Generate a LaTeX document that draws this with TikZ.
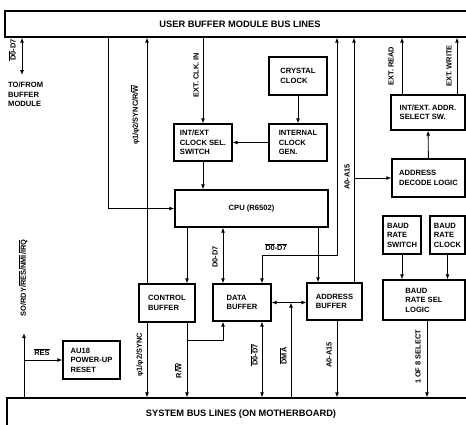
\documentclass[tikz,border=0pt]{standalone}
\usepackage{fontspec}
\setmainfont{Liberation Sans}
\usetikzlibrary{arrows.meta}
\newcommand{\ovl}[1]{$\overline{\hbox{#1}}$}

\begin{document}
\begin{tikzpicture}[x=1pt, y=-1pt,
    blk/.style={draw, line width=1.3pt, align=left, inner sep=2pt, font=\fontsize{7.6}{9.5}\selectfont\bfseries},
    bus/.style={draw, line width=1.3pt, font=\fontsize{9.3}{11}\selectfont\bfseries},
    lbl/.style={rotate=90, inner sep=1pt, font=\fontsize{7.4}{8}\selectfont\bfseries},
    hlbl/.style={inner sep=1pt, font=\fontsize{7.4}{8}\selectfont\bfseries},
    txt/.style={align=left, inner sep=0pt, font=\fontsize{7.6}{9.5}\selectfont\bfseries},
    wire/.style={line width=0.9pt},
    arr/.style={wire, -{Latex[length=5pt,width=4pt]}},
    darr/.style={wire, {Latex[length=5pt,width=4pt]}-{Latex[length=5pt,width=4pt]}}]

    \useasboundingbox (0,0) rectangle (466,424);

    % BUSES
    \node[bus, minimum width=470pt, minimum height=26pt] (ubus) at (240,24) {USER BUFFER MODULE BUS LINES};
    \node[bus, minimum width=468pt, minimum height=32pt] (sbus) at (241,414) {SYSTEM BUS LINES (ON MOTHERBOARD)};

    % connector columns
    \coordinate (cbus) at (108,0);
    \coordinate (cphi) at (147,0);
    \coordinate (crw) at (187,0);
    \coordinate (cd) at (223,0);
    \coordinate (cdma) at (291,0);
    \coordinate (cab) at (318,0);
    \coordinate (cdb) at (337,0);
    \coordinate (ca) at (354,0);
    \coordinate (cread) at (402,0);
    \coordinate (cwrite) at (457,0);
    \coordinate (cone) at (427,0);
    \coordinate (ddend) at (22,75);
    \coordinate (soend) at (24,333);
    \coordinate (dbar) at (262,255);
    \coordinate (rwtap) at (187,340);

    % BLOCKS
    \node[blk, minimum width=58pt, minimum height=38pt] (crystal) at (298,76) {CRYSTAL\\CLOCK};
    \node[blk, minimum width=58pt, minimum height=37pt] (intclk) at (298,142.5) {INTERNAL\\CLOCK\\GEN.};
    \node[blk, minimum width=58pt, minimum height=37pt] (clksel) at (203,142.5) {INT/EXT\\CLOCK SEL.\\SWITCH};
    \node[blk, minimum width=153pt, minimum height=37pt] (cpu) at (251.5,208.5) {CPU (R6502)};
    \node[blk, minimum width=56pt, minimum height=38pt] (ctrl) at (167,303) {CONTROL\\BUFFER};
    \node[blk, minimum width=58pt, minimum height=37pt] (data) at (242,302.5) {DATA\\BUFFER};
    \node[blk, minimum width=55pt, minimum height=37pt] (addr) at (334.5,301.5) {ADDRESS\\BUFFER};
    \node[blk, minimum width=57pt, minimum height=38pt] (reset) at (91.5,360) {AU18\\POWER-UP\\RESET};
    \node[blk, minimum width=74pt, minimum height=35pt] (selsw) at (428,112.5) {INT/EXT. ADDR.\\SELECT SW.};
    \node[blk, minimum width=73pt, minimum height=38pt] (decode) at (428.5,178) {ADDRESS\\DECODE LOGIC};
    \node[blk, minimum width=38pt, minimum height=38pt, inner sep=1pt] (brsw) at (402,235) {BAUD\\RATE\\SWITCH};
    \node[blk, minimum width=35pt, minimum height=38pt, inner sep=1pt] (brclk) at (447.5,235) {BAUD\\RATE\\CLOCK};
    \node[blk, minimum width=82pt, minimum height=40pt] (brsel) at (424,300) {BAUD\\RATE SEL\\LOGIC};
    \node[txt, anchor=north west] (tofrom) at (8,82) {TO/FROM\\BUFFER\\MODULE};

    % TOP: user bus side
    \draw[darr] (ubus.south -| ddend) -- (ddend);
    \draw[arr] (ubus.south -| cbus) |- (cpu.west);
    \draw[arr] (ctrl.north -| cphi) -- (ubus.south -| cphi);
    \draw[arr] (ubus.south -| clksel) -- (clksel);
    \draw[arr] (crystal) -- (intclk);
    \draw[arr] (intclk) -- (clksel);
    \draw[arr] (clksel) -- (clksel |- cpu.north);
    \draw[darr] (ubus.south -| cdb) |- (dbar) -- (data.north -| dbar);
    \draw[arr] (addr.north -| ca) -- (ubus.south -| ca);
    \draw[arr] (decode.west -| ca) -- (decode.west);
    \draw[arr] (decode) -- (selsw);
    \draw[arr] (selsw.north -| cread) -- (ubus.south -| cread);
    \draw[arr] (selsw.north -| cwrite) -- (ubus.south -| cwrite);

    % MIDDLE: cpu to buffers
    \draw[arr] (cpu.south -| crw) -- (ctrl.north -| crw);
    \draw[darr] (cpu.south -| cd) -- (data.north -| cd);
    \draw[arr] (cpu.south -| cab) -- (addr.north -| cab);
    \draw[darr] (data.east) -- (data.east -| addr.west);
    \draw[arr] (brsw) -- (brsw |- brsel.north);
    \draw[arr] (brclk) -- (brclk |- brsel.north);

    % BOTTOM: system bus side
    \draw[arr] (sbus.north -| soend) -- (soend);
    \draw[arr] (reset.west -| soend) -- (reset.west);
    \draw[arr] (ctrl.south -| cphi) -- (sbus.north -| cphi);
    \draw[arr] (ctrl.south -| crw) -- (sbus.north -| crw);
    \draw[arr] (rwtap) -| (data.south -| cd);
    \draw[darr] (data.south -| dbar) -- (sbus.north -| dbar);
    \draw[arr] (sbus.north -| cdma) -- (cdma |- data.east);
    \draw[arr] (addr.south -| cdb) -- (sbus.north -| cdb);
    \draw[arr] (brsel.south -| cone) -- (sbus.north -| cone);

    % labels
    \node[lbl] (lddtop) at (12,50) {\ovl{D0}-D7};
    \node[lbl] (lphitop) at (135,115) {φ1/φ2/SYNC/R/\ovl{W}};
    \node[lbl] (lclk) at (196,75) {EXT. CLK. IN};
    \node[lbl] (laddrtop) at (347,177) {A0-A15};
    \node[lbl] (lread) at (391,66) {EXT. READ};
    \node[lbl] (lwrite) at (449,66) {EXT. WRITE};
    \node[lbl] (ldcpu) at (215,257) {D0-D7};
    \node[hlbl] (ldbar) at (276,247) {\ovl{D0}-\ovl{D7}};
    \node[lbl] (lphibot) at (140,355) {φ1/φ2/SYNC};
    \node[lbl] (lrw) at (178,371) {R/\ovl{W}};
    \node[lbl] (ldbot) at (254,355) {\ovl{D0}-\ovl{D7}};
    \node[lbl] (ldma) at (283,356) {\ovl{DMA}};
    \node[lbl] (laddrbot) at (329,355) {A0-A15};
    \node[lbl] (lone) at (418,357) {1 OF 8 SELECT};
    \node[lbl] (lso) at (23,278) {SO/RDY/\ovl{RES}/\ovl{NMI}/\ovl{IRQ}};
    \node[hlbl] (lres) at (42,352) {\ovl{RES}};

\end{tikzpicture}
\end{document}
